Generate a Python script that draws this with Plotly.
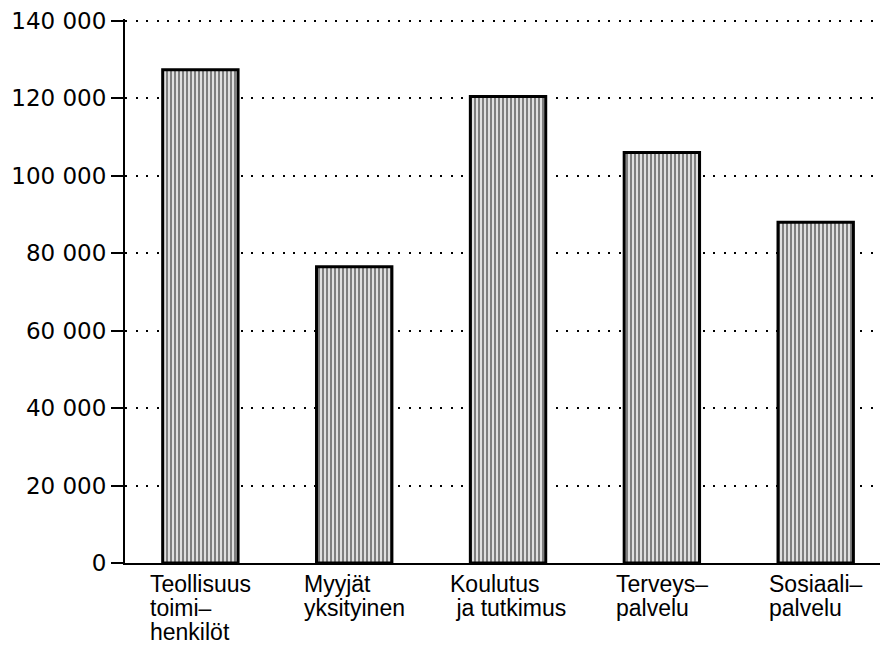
import plotly.graph_objects as go

categories = [["Teollisuus", "toimi–", "henkilöt"], ["Myyjät", "yksityinen"],
              ["Koulutus", "\u00a0ja tutkimus"], ["Terveys–", "palvelu"], ["Sosiaali–", "palvelu"]]
values = [127400, 76500, 120500, 106000, 88000]
y_ticks = [0, 20000, 40000, 60000, 80000, 100000, 120000, 140000]

xs = list(range(len(categories)))
TICK_FONT = "DejaVu Sans"
CAT_FONT = "Liberation Sans"

fig = go.Figure()
fig.add_trace(go.Bar(
    x=xs, y=values, width=0.49,
    marker=dict(color="white", line=dict(color="black", width=3),
                pattern=dict(shape="|", fgcolor="black", bgcolor="white",
                             size=4, solidity=0.62, fillmode="overlay")),
    showlegend=False,
))

for xi, lines in zip(xs, categories):
    text = "<br>".join(f"<span style='font-size:23px'>{ln}</span>" for ln in lines)
    fig.add_annotation(x=xi, y=0, xref="x", yref="paper", text=text,
                       xanchor="center", yanchor="top", align="left",
                       showarrow=False, yshift=-6,
                       font=dict(family=CAT_FONT, size=18.5, color="black"))

fig.update_layout(
    width=880, height=639,
    margin=dict(l=117, r=0, t=11, b=84),
    paper_bgcolor="white", plot_bgcolor="white",
    separators=", ",
    font=dict(family=TICK_FONT, size=23, color="black"),
)
fig.update_xaxes(range=[-0.49, 4.47], showline=True, linecolor="black", linewidth=2,
                 showticklabels=False, ticks="", showgrid=False, zeroline=False,
                 automargin=False)
fig.update_yaxes(range=[0, 140500], tickvals=y_ticks, tickformat=",d",
                 showline=True, linecolor="black", linewidth=2,
                 ticks="outside", ticklen=12, tickwidth=2, tickcolor="black",
                 showgrid=True, gridcolor="black", gridwidth=2, griddash="2px,8.5px",
                 zeroline=False, tickfont=dict(family=TICK_FONT, size=23),
                 ticklabeloverflow="allow", automargin=False)

fig.write_html("out.html")
